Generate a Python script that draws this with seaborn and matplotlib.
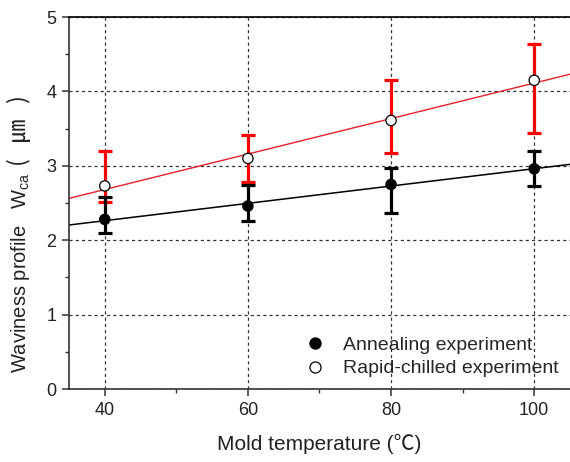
import matplotlib
matplotlib.use('Agg')
import matplotlib.pyplot as plt
from matplotlib.lines import Line2D
from matplotlib.ticker import MultipleLocator
import pandas as pd
import seaborn as sns

# mold temperature (deg C)
temps = [40, 60, 80, 100]

# annealing experiment: mean, lower and upper error bar ends
anneal = [2.28, 2.46, 2.75, 2.96]
anneal_lo = [2.10, 2.26, 2.37, 2.73]
anneal_hi = [2.58, 2.74, 2.97, 3.20]

# rapid-chilled experiment
chilled = [2.73, 3.10, 3.61, 4.15]
chilled_lo = [2.52, 2.78, 3.17, 3.44]
chilled_hi = [3.20, 3.41, 4.15, 4.64]

labels = ['Annealing experiment', 'Rapid-chilled experiment']

sns.set_style('ticks')
plt.rcParams['font.family'] = ['Liberation Sans', 'Noto Sans CJK KR', 'DejaVu Sans']
plt.rcParams['mathtext.fontset'] = 'custom'
plt.rcParams['mathtext.rm'] = 'Liberation Sans'

df = pd.DataFrame({'temp': temps * 2,
                   'w': anneal + chilled,
                   'kind': [labels[0]] * len(temps) + [labels[1]] * len(temps)})

fig = plt.figure(figsize=(5.7, 4.62), dpi=100)
ax = fig.add_axes([0.121, 0.158, 0.879, 0.805])
ax.set_xlim(35, 105)
ax.set_ylim(0, 5)

# linear fits across the whole axis
sns.regplot(x=temps, y=anneal, ax=ax, scatter=False, ci=None, truncate=False,
            line_kws=dict(color='black', lw=1.1, zorder=2))
sns.regplot(x=temps, y=chilled, ax=ax, scatter=False, ci=None, truncate=False,
            line_kws=dict(color='#e8202a', lw=1.0, zorder=2))

# error bars
err_c = [[m - l for m, l in zip(chilled, chilled_lo)], [h - m for m, h in zip(chilled, chilled_hi)]]
err_a = [[m - l for m, l in zip(anneal, anneal_lo)], [h - m for m, h in zip(anneal, anneal_hi)]]
ax.errorbar(temps, chilled, yerr=err_c, fmt='none', ecolor='#ff0000',
            elinewidth=2.3, capsize=4.8, capthick=2.3, zorder=3)
ax.errorbar(temps, anneal, yerr=err_a, fmt='none', ecolor='black',
            elinewidth=2.3, capsize=4.8, capthick=2.3, zorder=3)

sns.scatterplot(data=df, x='temp', y='w', hue='kind',
                palette={labels[0]: 'black', labels[1]: 'white'},
                edgecolor='black', linewidth=0.9, s=55, zorder=5,
                legend=False, ax=ax)

ax.set_xlim(35, 105)
ax.set_ylim(0, 5)

ax.xaxis.set_major_locator(MultipleLocator(20))
ax.xaxis.set_minor_locator(MultipleLocator(10))
ax.yaxis.set_major_locator(MultipleLocator(1))
ax.yaxis.set_minor_locator(MultipleLocator(0.5))
ax.tick_params(which='major', direction='out', length=5, width=1.1,
               labelsize=13, labelcolor='#222222', color='#333333', pad=4)
ax.tick_params(which='minor', direction='out', length=3, width=1.0, color='#333333')

ax.grid(True, which='major', color='#333333', lw=0.9, linestyle=(0, (2.5, 2.5)))
ax.set_axisbelow(True)

ax.spines['right'].set_visible(False)
for side in ['left', 'bottom', 'top']:
    ax.spines[side].set_color('#333333')
    ax.spines[side].set_linewidth(1.2)
ax.spines['top'].set_color('black')

ax.set_xlabel('Mold temperature (\u2103)', fontsize=15, color='#222222', labelpad=11)
ax.set_ylabel('')

# y label in two pieces so that the micrometre sign can use a CJK font
t1 = ax.text(-0.086, 0.043, 'Waviness profile   W$_{\\mathregular{ca}}$',
             rotation=90, rotation_mode='anchor', ha='left', va='baseline',
             transform=ax.transAxes, fontsize=14.5, color='#222222')
fig.canvas.draw()
bb = t1.get_window_extent(fig.canvas.get_renderer())
y_end = ax.transAxes.inverted().transform((bb.x0, bb.y1 + 6))[1]
ax.text(-0.086, y_end, '(   \u339b   )', rotation=90, rotation_mode='anchor',
        ha='left', va='baseline', transform=ax.transAxes, fontsize=17,
        family=['Noto Sans CJK KR', 'DejaVu Sans'], color='#222222')

handles = [Line2D([], [], ls='none', marker='o', ms=8, mfc='black', mec='black', mew=0.9),
           Line2D([], [], ls='none', marker='o', ms=8, mfc='white', mec='black', mew=0.9)]
ax.legend(handles, labels, loc='lower right', bbox_to_anchor=(1.0, 0.0),
          frameon=False, fontsize=14, handletextpad=0.8, labelspacing=0.3,
          borderaxespad=0.2, handlelength=1.2)

fig.savefig('out.png', dpi=100)
